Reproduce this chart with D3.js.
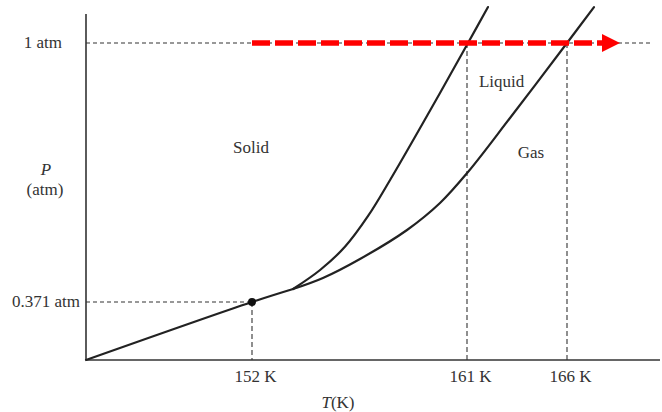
<!DOCTYPE html>
<html>
<head>
<meta charset="utf-8">
<script src="https://cdn.jsdelivr.net/npm/d3@7"></script>
<style>
body { margin: 0; background: #fff; }
text { font-family: "Liberation Serif", "Times New Roman", serif; fill: #333; font-size: 17px; }
</style>
</head>
<body>
<svg id="chart" width="662" height="412"></svg>
<script>
// T axis ticks (K)
var tempTicks = [152, 161, 166];
// pressure markers (atm)
var pressTicks = [0.371, 1];
var pressLabels = ["0.371 atm", "1 atm"];

// sublimation curve (solid / gas)
var subT = [145, 152, 153.72];
var subP = [0, 0.371, 0.4026];
// fusion curve (solid / liquid)
var fusT = [153.72, 154.85, 155.89, 156.86, 157.78, 159.87, 161.05, 162.05];
var fusP = [0.4026, 0.4487, 0.505, 0.5799, 0.6673, 0.8786, 1.0, 1.124];
// vaporization curve (liquid / gas)
var vapT = [153.72, 154.97, 156.52, 158.49, 159.87, 161.05, 163.15, 166.0, 167.35];
var vapP = [0.4026, 0.4293, 0.4754, 0.5459, 0.6114, 0.6867, 0.8179, 1.0, 1.124];

// triple point
var tripleT = 152, tripleP = 0.371;
// heating path at 1 atm
var heatFrom = 152, heatTo = 168.65;

// phase names and where they sit
var phaseNames = ["Solid", "Liquid", "Gas"];
var phaseT = [151.96, 162.73, 164.2];
var phaseP = [0.733, 0.893, 0.721];

var svg = d3.select("#chart");

// schematic diagram, so the scales are piecewise
var x = d3.scaleLinear()
  .domain([145, 152, 161, 166, 170.7])
  .range([86, 252, 467, 567, 661]);
var y = d3.scaleLinear()
  .domain([0, 0.371, 1, 1.1])
  .range([360, 302, 43, 14]);

var ink = "#222";

// dashed guides
var guides = svg.append("g")
  .attr("stroke", "#333")
  .attr("stroke-width", 1.1)
  .attr("stroke-dasharray", "4,3");

guides.append("line")
  .attr("x1", x(145)).attr("x2", x(170.15))
  .attr("y1", y(1)).attr("y2", y(1));
guides.append("line")
  .attr("x1", x(145)).attr("x2", x(tripleT))
  .attr("y1", y(tripleP)).attr("y2", y(tripleP));

var vLines = [[152, tripleP], [161, 1], [166, 1]];
guides.selectAll(".vg")
  .data(vLines)
  .enter().append("line")
  .attr("class", "vg")
  .attr("stroke-dasharray", "5,3")
  .attr("x1", function(d) { return x(d[0]); })
  .attr("x2", function(d) { return x(d[0]); })
  .attr("y1", function(d) { return y(d[1]); })
  .attr("y2", y(0));

// axes lines
svg.append("line")
  .attr("x1", x(145)).attr("x2", x(145))
  .attr("y1", y(1.1)).attr("y2", y(0))
  .attr("stroke", "#333").attr("stroke-width", 1.6);
svg.append("line")
  .attr("x1", x(145)).attr("x2", 660)
  .attr("y1", y(0)).attr("y2", y(0))
  .attr("stroke", "#333").attr("stroke-width", 1.6);

// x tick labels
var xAxis = d3.axisBottom(x)
  .tickValues(tempTicks)
  .tickSize(0)
  .tickPadding(10)
  .tickFormat(function(d) { return d + " K"; });

var gx = svg.append("g")
  .attr("transform", "translate(3," + y(0) + ")")
  .call(xAxis);
gx.select(".domain").remove();
gx.selectAll("text")
  .attr("fill", "#333")
  .style("font-size", "17px")
  .style("font-family", "'Liberation Serif', serif");

// y tick labels
var yLabX = [80, 62];
svg.selectAll(".ylab")
  .data(pressTicks)
  .enter().append("text")
  .attr("class", "ylab")
  .attr("text-anchor", "end")
  .attr("x", function(d, i) { return yLabX[i]; })
  .attr("y", function(d) { return y(d) + 5; })
  .text(function(d, i) { return pressLabels[i]; });

// axis titles
svg.append("text")
  .attr("x", 46).attr("y", 175)
  .attr("text-anchor", "middle")
  .style("font-style", "italic")
  .text("P");
svg.append("text")
  .attr("x", 45).attr("y", 195)
  .attr("text-anchor", "middle")
  .text("(atm)");

var tTitle = svg.append("text")
  .attr("x", 338).attr("y", 408)
  .attr("text-anchor", "middle");
tTitle.append("tspan").style("font-style", "italic").text("T");
tTitle.append("tspan").text("(K)");

// phase boundaries
var line = d3.line()
  .x(function(d) { return x(d[0]); })
  .y(function(d) { return y(d[1]); })
  .curve(d3.curveCatmullRom.alpha(0.5));

function pairs(a, b) {
  return a.map(function(v, i) { return [v, b[i]]; });
}

var curves = [pairs(subT, subP), pairs(fusT, fusP), pairs(vapT, vapP)];

svg.selectAll(".curve")
  .data(curves)
  .enter().append("path")
  .attr("class", "curve")
  .attr("d", line)
  .attr("fill", "none")
  .attr("stroke", ink)
  .attr("stroke-width", 2.2)
  .attr("stroke-linecap", "round");

// triple point
svg.append("circle")
  .attr("cx", x(tripleT))
  .attr("cy", y(tripleP))
  .attr("r", 4)
  .attr("fill", "#111");

// red heating arrow
var headLen = 18, headHalf = 9;
svg.append("line")
  .attr("x1", x(heatFrom))
  .attr("x2", x(heatTo) - headLen)
  .attr("y1", y(1)).attr("y2", y(1))
  .attr("stroke", "#ff0000")
  .attr("stroke-width", 5.5)
  .attr("stroke-dasharray", "18,5");

svg.append("path")
  .attr("d", "M" + x(heatTo) + "," + y(1) +
    "L" + (x(heatTo) - headLen) + "," + (y(1) - headHalf) +
    "L" + (x(heatTo) - headLen) + "," + (y(1) + headHalf) + "Z")
  .attr("fill", "#ff0000");

// phase names
svg.selectAll(".phase")
  .data(phaseNames)
  .enter().append("text")
  .attr("class", "phase")
  .attr("text-anchor", "middle")
  .attr("x", function(d, i) { return x(phaseT[i]); })
  .attr("y", function(d, i) { return y(phaseP[i]); })
  .text(function(d) { return d; });
</script>
</body>
</html>
